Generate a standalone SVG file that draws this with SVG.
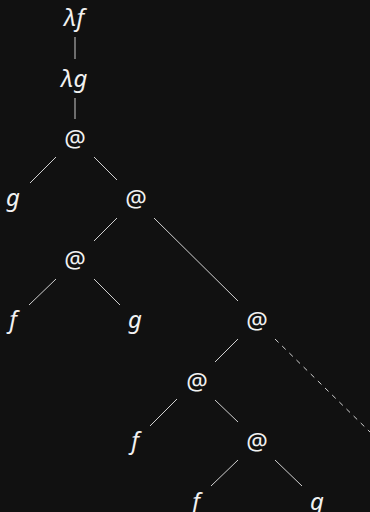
<svg xmlns="http://www.w3.org/2000/svg" width="370" height="512" viewBox="0 0 370 512">
<style>
text{font-family:"Noto Sans","Open Sans",sans-serif;font-size:24px;fill:#f2f2f2;text-anchor:middle}
.v{font-style:italic}
.e{stroke:#d0d0d0;stroke-width:1;fill:none}
.d{stroke-dasharray:5,5}
.s{stroke:#a0a0a0;stroke-width:1.3}
</style>
<rect width="370" height="512" fill="#111111"/>
<g id="edges">
<line class="e s" x1="75" y1="37" x2="75" y2="59"/>
<line class="e s" x1="75" y1="98" x2="75" y2="119"/>
<line class="e" x1="56" y1="157" x2="30" y2="183"/>
<line class="e" x1="94" y1="157" x2="117" y2="180"/>
<line class="e" x1="117" y1="218" x2="94" y2="241"/>
<line class="e" x1="154" y1="218" x2="238" y2="301"/>
<line class="e" x1="56" y1="279" x2="29" y2="305"/>
<line class="e" x1="94" y1="279" x2="120" y2="305"/>
<line class="e" x1="238" y1="339" x2="215" y2="362"/>
<line class="e d" x1="275" y1="339" x2="372" y2="434"/>
<line class="e" x1="177" y1="399" x2="150" y2="426"/>
<line class="e" x1="215" y1="400" x2="238" y2="422"/>
<line class="e" x1="238" y1="460" x2="211" y2="486"/>
<line class="e" x1="275" y1="460" x2="302" y2="486"/>
</g>
<g id="n1"><text class="v" x="74" y="26">λf</text></g>
<g id="n2"><text class="v" x="74" y="87">λg</text></g>
<g id="n3"><text x="75" y="147">@</text></g>
<g id="n4"><text class="v" x="13" y="206">g</text></g>
<g id="n5"><text x="136" y="207">@</text></g>
<g id="n6"><text x="75" y="268">@</text></g>
<g id="n7"><text class="v" x="13" y="328">f</text></g>
<g id="n8"><text class="v" x="135" y="328">g</text></g>
<g id="n9"><text x="257" y="329">@</text></g>
<g id="n10"><text x="197" y="390">@</text></g>
<g id="n11"><text class="v" x="135" y="449">f</text></g>
<g id="n12"><text x="257" y="450">@</text></g>
<g id="n13"><text class="v" x="196" y="510">f</text></g>
<g id="n14"><text class="v" x="317" y="510">g</text></g>
</svg>
